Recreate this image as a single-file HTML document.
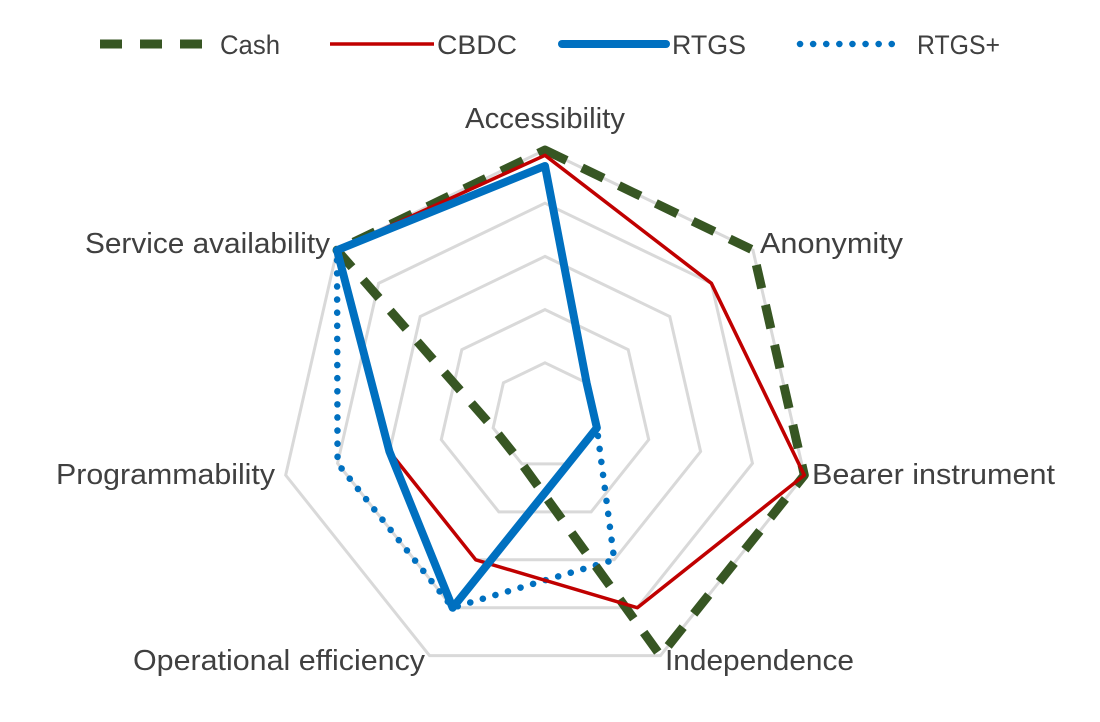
<!DOCTYPE html>
<html><head><meta charset="utf-8">
<style>
html,body{margin:0;padding:0;background:#fff;}
svg{display:block;font-family:"Liberation Sans",sans-serif;}
text{fill:#404040;}
</style></head>
<body>
<svg id="chart" width="1100" height="722" viewBox="0 0 1100 722">
  <g id="legend"></g>
  <g id="grid"></g>
  <g id="labels"></g>
  <g id="series"></g>
</svg>
<script>
const categories = ["Accessibility","Anonymity","Bearer instrument","Independence","Operational efficiency","Programmability","Service availability"];
const seriesNames = ["Cash","CBDC","RTGS","RTGS+"];
const cashValues = [5, 5, 5, 5, 1, 1, 5];
const cbdcValues = [4.9, 4, 5, 4, 3, 3, 5];
const rtgsValues = [4.7, 1, 1, 1, 4, 3, 5];
const rtgsPlusValues = [4.7, 1, 1, 3, 4, 4, 5];
const gridTicks = [1, 2, 3, 4, 5];

const NS = "http://www.w3.org/2000/svg";
const cx = 545, cy = 416, R = 266, maxV = 5;
function pt(i, v){
  const a = (-90 + i*360/categories.length) * Math.PI/180;
  const r = v/maxV*R;
  return [cx + r*Math.cos(a), cy + r*Math.sin(a)];
}
function mk(tag, attrs, parent){
  const e = document.createElementNS(NS, tag);
  for (const k in attrs) e.setAttribute(k, attrs[k]);
  parent.appendChild(e);
  return e;
}
const grid = document.getElementById('grid');
gridTicks.forEach(t=>{
  const p = categories.map((c,i)=>pt(i,t).join(',')).join(' ');
  const g = mk('polygon',{points:p,fill:'none',stroke:'#d9d9d9','stroke-width':3},grid);
  
  
});

const labelPos = [
  {x:465,y:128,w:160},
  {x:760,y:253,w:143},
  {x:812,y:484,w:243},
  {x:665,y:670,w:189},
  {x:133,y:670,w:292},
  {x:56,y:484,w:219},
  {x:85,y:253,w:245}
];
const labels = document.getElementById('labels');
categories.forEach((c,i)=>{
  const t = mk('text',{x:labelPos[i].x,y:labelPos[i].y,'font-size':29,textLength:labelPos[i].w,lengthAdjust:'spacingAndGlyphs'},labels);
  t.textContent = c;
  
  
});

const styles = [
  {stroke:'#375623',w:9,dash:'24 17',cap:'butt'},
  {stroke:'#C00000',w:3.5,dash:'',cap:'butt'},
  {stroke:'#0070C0',w:8,dash:'',cap:'round'},
  {stroke:'#0070C0',w:6.5,dash:'0.1 13',cap:'round'}
];
const allValues = [cashValues, cbdcValues, rtgsValues, rtgsPlusValues];
const seriesG = document.getElementById('series');
const order = [3,0,1,2];
order.forEach(s=>{
  const p = allValues[s].map((v,i)=>pt(i,v).join(',')).join(' ');
  const st = styles[s];
  const attrs = {points:p,fill:'none',stroke:st.stroke,'stroke-width':st.w,'stroke-linejoin':'round','stroke-linecap':st.cap};
  if (st.dash) attrs['stroke-dasharray'] = st.dash;
  const el = mk('polygon',attrs,seriesG);
  
  
});

const legend = document.getElementById('legend');
const legX = [100, 330, 562, 800];
const legTextX = [220, 437, 672, 917];
const legTextW = [60, 80, 74, 83];
seriesNames.forEach((n,s)=>{
  const st = styles[s];
  const attrs = {x1:legX[s],y1:44,x2:legX[s]+104,y2:44,stroke:st.stroke,'stroke-width':st.w,'stroke-linecap':st.cap};
  if (st.dash) attrs['stroke-dasharray'] = s===0 ? '22 18' : st.dash;
  const l = mk('line',attrs,legend);
  
  
  const t = mk('text',{x:legTextX[s],y:54,'font-size':27,textLength:legTextW[s],lengthAdjust:'spacingAndGlyphs'},legend);
  t.textContent = n;
  
  
});
</script>
</body></html>
